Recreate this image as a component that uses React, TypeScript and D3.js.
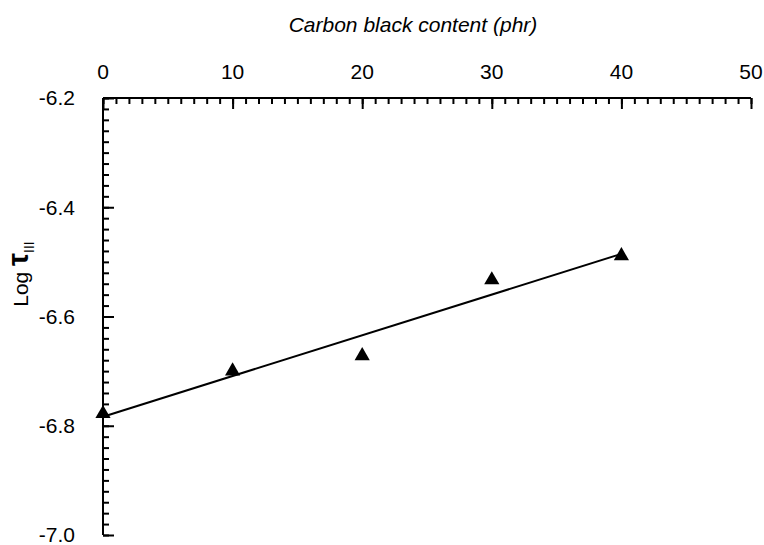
import React, { useRef, useEffect } from "react";
import * as d3 from "d3";

// carbon black content (phr) and measured log tau_III
const contents = [0, 10, 20, 30, 40];
const logTau = [-6.778, -6.7, -6.672, -6.533, -6.489];
const xTickLabels = ["0", "10", "20", "30", "40", "50"];
const yTickLabels = ["-6.2", "-6.4", "-6.6", "-6.8", "-7.0"];

const W = 764;
const H = 545;

function App() {
  const svgRef = useRef<SVGSVGElement>(null);

  useEffect(() => {
    const svg = d3.select(svgRef.current);
    svg.selectAll("*").remove();

    const x = d3.scaleLinear().domain([0, 50]).range([103, 751]);
    const y = d3.scaleLinear().domain([-6.2, -7.0]).range([98, 535]);
    const font = "'Liberation Sans', Arial, sans-serif";

    // top axis, ticks point down into the plot
    const top = svg.append("g").attr("transform", `translate(0,${y(-6.2)})`);
    top
      .append("g")
      .call(
        d3.axisBottom(x).tickValues(d3.range(0, 51, 1)).tickSize(6).tickFormat(() => "")
      )
      .call((g) => g.select(".domain").remove());
    top
      .append("g")
      .call(d3.axisBottom(x).tickValues(d3.range(0, 51, 10)).tickSize(11).tickFormat(() => ""))
      .call((g) => g.select(".domain").remove());
    top
      .append("line")
      .attr("x1", x(0))
      .attr("x2", x(50))
      .attr("stroke", "#000");
    top.selectAll("line").attr("stroke", "#000").attr("stroke-width", 2);

    svg
      .append("g")
      .selectAll("text")
      .data(xTickLabels)
      .join("text")
      .attr("x", (d) => x(+d))
      .attr("y", 79)
      .attr("text-anchor", "middle")
      .attr("font-family", font)
      .attr("font-size", 21)
      .text((d) => d);

    // left axis, ticks point right into the plot
    const left = svg.append("g").attr("transform", `translate(${x(0)},0)`);
    left
      .append("g")
      .call(
        d3
          .axisRight(y)
          .tickValues(d3.range(0, 41).map((i) => -6.2 - i * 0.02))
          .tickSize(6)
          .tickFormat(() => "")
      )
      .call((g) => g.select(".domain").remove());
    left
      .append("g")
      .call(d3.axisRight(y).tickValues(yTickLabels.map(Number)).tickSize(11).tickFormat(() => ""))
      .call((g) => g.select(".domain").remove());
    left
      .append("line")
      .attr("y1", y(-6.2))
      .attr("y2", y(-7.0))
      .attr("stroke", "#000");
    left.selectAll("line").attr("stroke", "#000").attr("stroke-width", 2);

    svg
      .append("g")
      .selectAll("text")
      .data(yTickLabels)
      .join("text")
      .attr("x", 75)
      .attr("y", (d) => y(+d))
      .attr("dy", "0.35em")
      .attr("text-anchor", "end")
      .attr("font-family", font)
      .attr("font-size", 21)
      .text((d) => d);

    // titles
    svg
      .append("text")
      .attr("x", 413)
      .attr("y", 32)
      .attr("text-anchor", "middle")
      .attr("font-family", font)
      .attr("font-style", "italic")
      .attr("font-size", 21)
      .text("Carbon black content (phr)");

    const yl = svg
      .append("text")
      .attr("transform", `translate(28,274) rotate(-90)`)
      .attr("text-anchor", "middle")
      .attr("font-family", font)
      .attr("font-size", 21);
    yl.append("tspan").text("Log ");
    yl.append("tspan").attr("font-size", 29).attr("font-weight", "bold").text("τ");
    yl.append("tspan").attr("font-size", 14).attr("dy", 6).text("III");

    // least-squares fit line
    const mx = d3.mean(contents)!;
    const my = d3.mean(logTau)!;
    const slope =
      d3.sum(contents, (c, i) => (c - mx) * (logTau[i] - my)) /
      d3.sum(contents, (c) => (c - mx) ** 2);
    const fit = (c: number) => my + slope * (c - mx);
    const ext = d3.extent(contents) as [number, number];
    svg
      .append("path")
      .attr(
        "d",
        d3
          .line<number>()
          .x((c) => x(c))
          .y((c) => y(fit(c)))(ext)
      )
      .attr("fill", "none")
      .attr("stroke", "#000")
      .attr("stroke-width", 2);

    // data points
    const tri = d3.symbol().type(d3.symbolTriangle).size(100);
    svg
      .append("g")
      .selectAll("path")
      .data(contents)
      .join("path")
      .attr("transform", (c, i) => `translate(${x(c)},${y(logTau[i])})`)
      .attr("d", tri)
      .attr("fill", "#000");
  }, []);

  return (
    <svg
      ref={svgRef}
      width={W}
      height={H}
      style={{ position: "absolute", left: 0, top: 0, background: "#fff" }}
    ></svg>
  );
}

export default App;
